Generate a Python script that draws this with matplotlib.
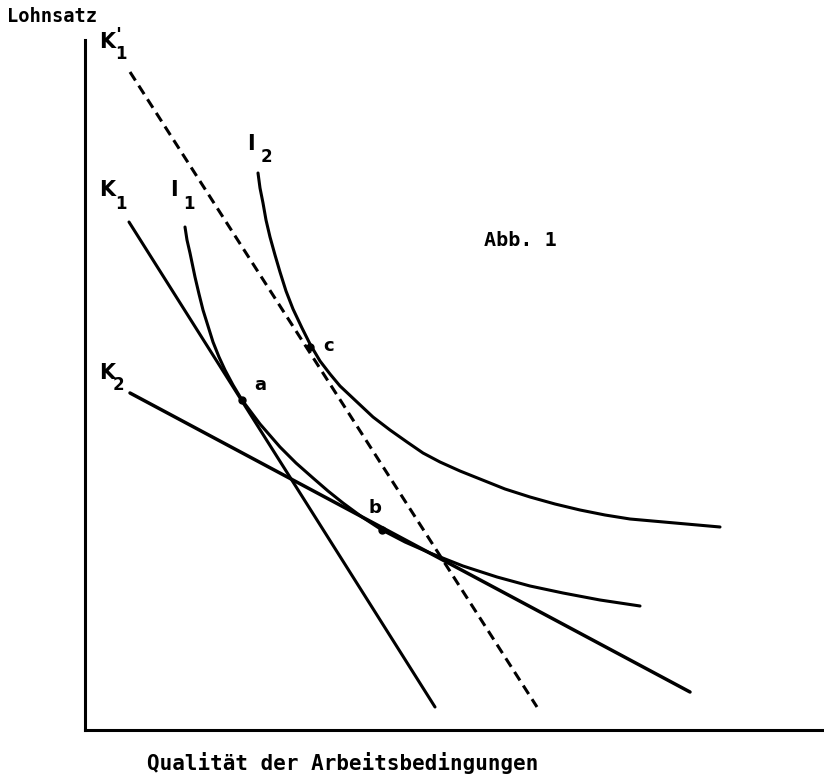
import matplotlib
matplotlib.use("Agg")
import matplotlib.pyplot as plt
import numpy as np

# budget lines (start / end), units measured from the axis origin
k1_x = np.array([44, 350])
k1_y = np.array([508, 23])
k1s_x = np.array([45, 452])
k1s_y = np.array([658, 23])
k2_x = np.array([45, 605])
k2_y = np.array([337, 38])

# indifference curves, points
i1_x = np.array([100, 102, 105, 110, 114, 118, 123, 128, 134, 140, 148, 157, 166, 175,
                 195, 211, 228, 243, 258, 277, 297, 320, 345, 378, 412, 445, 478, 515, 555])
i1_y = np.array([503, 490, 477, 453, 436, 420, 404, 388, 373, 360, 345, 330, 318, 306,
                 283, 267, 252, 239, 227, 213, 200, 188, 177, 164, 153, 144, 137, 130, 124])
i2_x = np.array([173, 175, 178, 181, 185, 190, 195, 201, 208, 217, 225, 235, 245, 255, 272,
                 288, 305, 322, 338, 355, 375, 395, 420, 445, 470, 495, 520, 545, 590, 635])
i2_y = np.array([557, 542, 527, 510, 493, 475, 458, 439, 421, 402, 386, 369, 356, 344, 328,
                 313, 300, 288, 277, 268, 259, 251, 241, 233, 226, 220, 215, 211, 207, 203])

# tangency points a, b, c
pt_names = ["a", "b", "c"]
pt_x = np.array([157, 297, 225])
pt_y = np.array([330, 200, 383])

W, H = 824, 775
fig = plt.figure(figsize=(W / 100, H / 100), dpi=100)
ax = fig.add_axes([85 / W, 45 / H, 737 / W, 690 / H])
ax.set_xlim(0, 737)
ax.set_ylim(0, 690)
ax.spines[["top", "right"]].set_visible(False)
ax.spines[["left", "bottom"]].set_linewidth(2.2)
ax.set_xticks([])
ax.set_yticks([])

lw = 2.2
line_kw = dict(color="black", solid_capstyle="round", solid_joinstyle="round")
ax.plot(k1_x, k1_y, lw=lw, **line_kw)
ax.plot(k2_x, k2_y, lw=lw + 0.3, **line_kw)
ax.plot(k1s_x, k1s_y, color="black", lw=lw, dashes=(3.3, 2.0))
ax.plot(i1_x, i1_y, lw=lw, **line_kw)
ax.plot(i2_x, i2_y, lw=lw, **line_kw)
ax.plot(pt_x, pt_y, "o", color="black", markersize=5, linestyle="none")


def label(px, py, s, size, family="DejaVu Sans"):
    # place text by pixel position in the picture
    fig.text(px / W, 1 - py / H, s, fontsize=size, fontweight="bold",
             family=family, ha="left", va="center")


label(7, 17, "Lohnsatz", 13.5, "DejaVu Sans Mono")
label(147, 763, "Qualität der Arbeitsbedingungen", 15, "DejaVu Sans Mono")
label(484, 240, "Abb. 1", 14.5, "DejaVu Sans Mono")

label(99, 42, "K", 15)
label(115, 36, "'", 14)
label(115, 54, "1", 12)
label(99, 190, "K", 15)
label(115, 204, "1", 12)
label(170, 190, "I", 15)
label(183, 204, "1", 12)
label(247, 144, "I", 15)
label(261, 157, "2", 12)
label(99, 373, "K", 15)
label(113, 385, "2", 12)

label(254, 385, "a", 13)
label(369, 508, "b", 13)
label(323, 346, "c", 13)

fig.savefig("out.png", dpi=100)
